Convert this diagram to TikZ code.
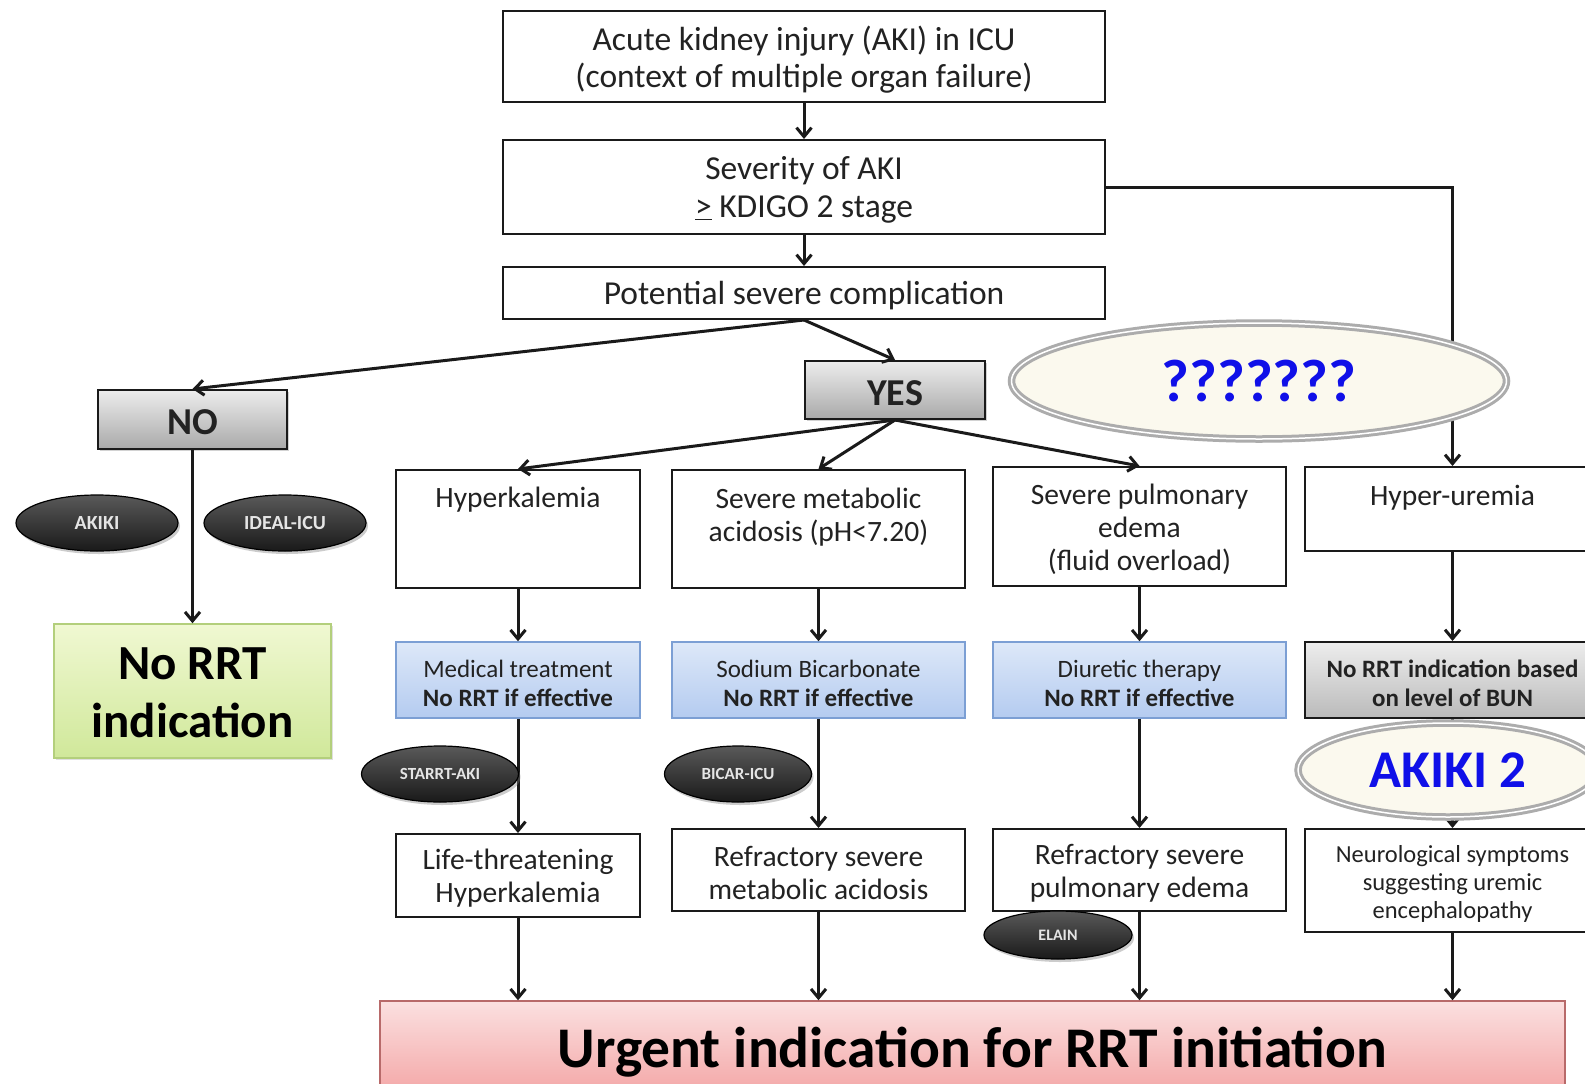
\documentclass[tikz,border=0pt]{standalone}
\usepackage{fontspec}
\setmainfont{Carlito}
\usetikzlibrary{arrows.meta,shadows,shapes.geometric,calc}
\definecolor{lc}{HTML}{1A1A1A}
\definecolor{txtc}{HTML}{222222}
\definecolor{blueT}{HTML}{DDE8F8}
\definecolor{blueB}{HTML}{B4CBF0}
\definecolor{blueD}{HTML}{7C9FD4}
\definecolor{grayT}{HTML}{EDEDED}
\definecolor{grayB}{HTML}{A9A9A9}
\definecolor{greenT}{HTML}{F0F8D2}
\definecolor{greenB}{HTML}{D0E89A}
\definecolor{greenD}{HTML}{B3CF7C}
\definecolor{pinkT}{HTML}{FBE0E0}
\definecolor{pinkB}{HTML}{F3A3A3}
\definecolor{pinkD}{HTML}{B86A6A}
\definecolor{cream}{HTML}{FBF9EE}
\definecolor{qblue}{HTML}{1010E8}
\begin{document}
\begin{tikzpicture}[x=1pt,y=-1pt,
  every node/.style={inner sep=0pt, align=center, text=txtc},
  f32/.style={font=\fontsize{33.5}{37.5}\selectfont},
  f28/.style={font=\fontsize{29.5}{33}\selectfont},
  f24/.style={font=\fontsize{25}{29}\selectfont},
  f24b/.style={font=\bfseries\fontsize{25}{29}\selectfont},
  f22/.style={font=\fontsize{24.5}{28}\selectfont},
  tx/.style={yshift=-3pt},
  wbox/.style={draw=lc, line width=2pt, fill=white},
  bluebox/.style={draw=blueD, line width=1.5pt, top color=blueT, bottom color=blueB},
  graybox/.style={draw=lc, line width=2pt, top color=grayT, bottom color=grayB,
     drop shadow={shadow xshift=2pt, shadow yshift=-2pt, opacity=0.35}},
  bungray/.style={draw=lc, line width=2pt, top color=grayT, bottom color=grayB!80},
  darkell/.style={ellipse, draw=black, line width=1.2pt, top color=gray!70!black, bottom color=black!90,
     text=gray!20, font=\bfseries\fontsize{17}{19}\selectfont,
     drop shadow={shadow xshift=2pt, shadow yshift=-3pt, opacity=0.4}},
  creamell/.style={ellipse, draw=gray!65, line width=3pt, double=white, double distance=1.5pt, fill=cream,
     text=qblue, drop shadow={shadow xshift=2pt, shadow yshift=-3pt, opacity=0.3}},
  arr/.style={draw=lc, line width=3pt, -{Straight Barb[length=9pt,width=15pt,line width=3pt]}}
]
\path[use as bounding box, clip] (0,0) rectangle (1585,1084);
\fill[white] (0,0) rectangle (1585,1084);

% top boxes
\node[wbox, minimum width=602pt, minimum height=91pt] (aki) at (804,56.5) {};
\node[f32, tx] (akit) at (aki.center) {Acute kidney injury (AKI) in ICU\\(context of multiple organ failure)};
\node[wbox, minimum width=602pt, minimum height=94pt] (sev) at (804,187) {};
\node[f32, tx] (sevt) at (sev.center) {Severity of AKI\\\underline{>} KDIGO 2 stage};
\node[wbox, minimum width=602pt, minimum height=52pt] (pot) at (804,293) {};
\node[f32, tx] (pott) at (pot.center) {Potential severe complication};

% NO / YES
\node[graybox, minimum width=189pt, minimum height=59pt] (no) at (192.5,419.5) {};
\node[tx, font=\bfseries\fontsize{38}{40}\selectfont] (not) at (no.center) {NO};
\node[graybox, minimum width=180pt, minimum height=58pt] (yes) at (895,390) {};
\node[tx, font=\bfseries\fontsize{38}{40}\selectfont] (yest) at (yes.center) {YES};

% row 1
\node[wbox, minimum width=244pt, minimum height=118pt] (hyp) at (518,529) {};
\node[f28] (hypt) at (518,500) {Hyperkalemia};
\node[wbox, minimum width=293pt, minimum height=118pt] (met) at (818.5,529) {};
\node[f28] (mett) at (818.5,517) {Severe metabolic\\acidosis (pH<7.20)};
\node[wbox, minimum width=293pt, minimum height=119pt] (pul) at (1139.5,526.5) {};
\node[f28, tx] (pult) at (pul.center) {Severe pulmonary\\edema\\(fluid overload)};
\node[wbox, minimum width=295pt, minimum height=84pt] (ure) at (1452.5,509) {};
\node[f28] (uret) at (1452.5,498) {Hyper-uremia};

% row 2
\node[bluebox, minimum width=244pt, minimum height=76pt] (med) at (518,680) {};
\node[f24, tx] (medt) at (med.center) {Medical treatment\\\textbf{No RRT if effective}};
\node[bluebox, minimum width=293pt, minimum height=76pt] (sod) at (818.5,680) {};
\node[f24, tx] (sodt) at (sod.center) {Sodium Bicarbonate\\\textbf{No RRT if effective}};
\node[bluebox, minimum width=293pt, minimum height=76pt] (diu) at (1139.5,680) {};
\node[f24, tx] (diut) at (diu.center) {Diuretic therapy\\\textbf{No RRT if effective}};
\node[bungray, minimum width=295pt, minimum height=76pt] (bun) at (1452.5,680) {};
\node[f24b, tx] (bunt) at (bun.center) {No RRT indication based\\on level of BUN};

% row 3
\node[wbox, minimum width=244pt, minimum height=83pt] (lif) at (518,875.5) {};
\node[f28, tx] (lift) at (lif.center) {Life-threatening\\Hyperkalemia};
\node[wbox, minimum width=293pt, minimum height=82pt] (rme) at (818.5,870) {};
\node[f28, tx] (rmet) at (rme.center) {Refractory severe\\metabolic acidosis};
\node[wbox, minimum width=293pt, minimum height=82pt] (rpu) at (1139.5,870) {};
\node[f28, tx] (rput) at (rpu.center) {Refractory severe\\pulmonary edema};
\node[wbox, minimum width=295pt, minimum height=103pt] (neu) at (1452.5,880.5) {};
\node[f22, tx] (neut) at (neu.center) {Neurological symptoms\\suggesting uremic\\encephalopathy};

% bottom
\node[draw=pinkD, line width=1.5pt, top color=pinkT, bottom color=pinkB,
  minimum width=1185pt, minimum height=99pt] (urg) at (972.5,1050.5) {};
\node[text=black, yshift=-2pt, font=\bfseries\fontsize{57.5}{60}\selectfont] (urgt) at (urg.center)
  {Urgent indication for RRT initiation};

% No RRT
\node[draw=greenD, line width=1.5pt, top color=greenT, bottom color=greenB,
  minimum width=277pt, minimum height=134pt,
  drop shadow={shadow xshift=2pt, shadow yshift=-2pt, opacity=0.25}] (norrt) at (192.5,691) {};
\node[text=black, yshift=-2pt, font=\bfseries\fontsize{49}{58}\selectfont] (norrtt) at (norrt.center)
  {No RRT\\indication};

% connectors
\draw[arr] (aki.south) -- (sev.north);
\draw[arr] (sev.south) -- (pot.north);
\draw[arr] (pot.south) -- (no.north);
\draw[arr] (pot.south) -- (yes.north);
\draw[arr] (yes.south) -- (hyp.north);
\draw[arr] (yes.south) -- (met.north);
\draw[arr] (yes.south) -- (pul.north);
\draw[arr] (sev.east) -| (ure.north);
\draw[arr] (no.south) -- (norrt.north);
\draw[arr] (hyp.south) -- (med.north);
\draw[arr] (med.south) -- (lif.north);
\draw[arr] (lif.south) -- (lif.south |- urg.north);
\draw[arr] (met.south) -- (sod.north);
\draw[arr] (sod.south) -- (rme.north);
\draw[arr] (rme.south) -- (rme.south |- urg.north);
\draw[arr] (pul.south) -- (diu.north);
\draw[arr] (diu.south) -- (rpu.north);
\draw[arr] (rpu.south) -- (rpu.south |- urg.north);
\draw[arr] (ure.south) -- (bun.north);
\draw[arr] (bun.south) -- (neu.north);
\draw[arr] (neu.south) -- (neu.south |- urg.north);

% ellipses
\node[creamell, minimum width=495pt, minimum height=116pt, font=\bfseries\fontsize{60}{64}\selectfont] (qq) at (1259,381) {???????};
\node[creamell, minimum width=300pt, minimum height=94pt, font=\bfseries\fontsize{53}{56}\selectfont] (ak2) at (1448,770) {AKIKI 2};
\node[darkell, minimum width=162pt, minimum height=56pt, font=\bfseries\fontsize{20}{22}\selectfont] (akiki) at (97,523) {AKIKI};
\node[darkell, minimum width=162pt, minimum height=56pt, font=\bfseries\fontsize{20}{22}\selectfont] (ideal) at (285,523) {IDEAL-ICU};
\node[darkell, minimum width=157pt, minimum height=56pt] (starrt) at (440,774) {STARRT-AKI};
\node[darkell, minimum width=147pt, minimum height=56pt] (bicar) at (738,774) {BICAR-ICU};
\node[darkell, minimum width=148pt, minimum height=48pt, font=\bfseries\fontsize{16}{18}\selectfont] (elain) at (1058,935) {ELAIN};
\end{tikzpicture}
\end{document}
